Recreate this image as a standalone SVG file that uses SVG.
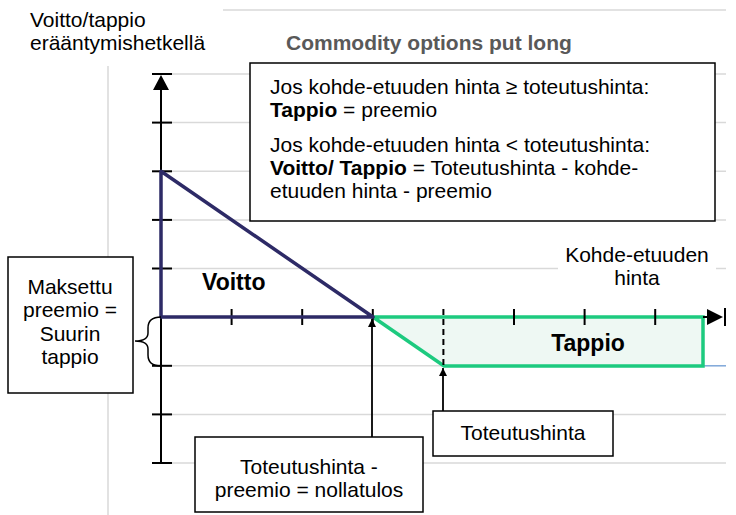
<svg xmlns="http://www.w3.org/2000/svg" width="736" height="515" viewBox="0 0 736 515">
<style>
text{font-family:"Liberation Sans",Arial,sans-serif;font-size:21px;fill:#000}
.b{font-weight:bold}
.grid{stroke:#D9D9D9;stroke-width:1.5;fill:none}
.ax{stroke:#000;stroke-width:2;fill:none}
.box{fill:#fff;stroke:#000;stroke-width:1.5}
.pur{stroke:#2D2A66;stroke-width:3.5;fill:none;stroke-linejoin:round}
.conn{stroke:#000;stroke-width:1.8;fill:none}
</style>
<defs>
<marker id="ah" viewBox="0 0 10 10" refX="10" refY="5" markerWidth="8" markerHeight="8" markerUnits="userSpaceOnUse" orient="auto">
<path d="M0,0 L10,5 L0,10 Z" fill="#000"/>
</marker>
</defs>
<g id="grid">
<line class="grid" x1="223" y1="10" x2="726" y2="10"/>
<line class="grid" x1="108" y1="66" x2="108" y2="515"/>
<line class="grid" x1="161" y1="74" x2="726" y2="74"/>
<line class="grid" x1="161" y1="122.6" x2="726" y2="122.6"/>
<line class="grid" x1="161" y1="171.3" x2="726" y2="171.3"/>
<line class="grid" x1="161" y1="219.9" x2="726" y2="219.9"/>
<line class="grid" x1="161" y1="268.5" x2="726" y2="268.5"/>
<line class="grid" x1="161" y1="365.8" x2="703" y2="365.8"/>
<line x1="703" y1="365.8" x2="726" y2="365.8" stroke="#7FA7D9" stroke-width="1.5"/>
<line class="grid" x1="161" y1="414.4" x2="726" y2="414.4"/>
<line class="grid" x1="161" y1="463" x2="726" y2="463"/>
</g>
<g id="title">
<text x="30" y="27">Voitto/tappio</text>
<text x="30" y="50">erääntymishetkellä</text>
<text x="286" y="50" class="b" style="fill:#595959">Commodity options put long</text>
</g>
<g id="loss-area">
<path d="M373,317 L444,366 L703,366 L703,317 Z" fill="#EEF8F3" stroke="#1DCA7F" stroke-width="3.5" stroke-linejoin="miter"/>
</g>
<g id="axes">
<line class="ax" x1="161" y1="80" x2="161" y2="463"/>
<path d="M161,75 L169,90 L153,90 Z" fill="#000"/>
<line class="ax" x1="152" y1="74" x2="172" y2="74"/>
<line class="ax" x1="152" y1="122.6" x2="172" y2="122.6"/>
<line class="ax" x1="152" y1="171.3" x2="172" y2="171.3"/>
<line class="ax" x1="152" y1="219.9" x2="172" y2="219.9"/>
<line class="ax" x1="152" y1="268.5" x2="172" y2="268.5"/>
<line class="ax" x1="152" y1="365.8" x2="172" y2="365.8"/>
<line class="ax" x1="152" y1="414.4" x2="172" y2="414.4"/>
<line class="ax" x1="152" y1="463" x2="172" y2="463"/>
<line class="ax" x1="703" y1="317" x2="710" y2="317"/>
<path d="M723,317 L707,309 L707,325 Z" fill="#000"/>
<line class="ax" x1="725" y1="308" x2="725" y2="326"/>
<line class="ax" x1="231.6" y1="309" x2="231.6" y2="325"/>
<line class="ax" x1="302.2" y1="309" x2="302.2" y2="325"/>
<line class="ax" x1="372.8" y1="309" x2="372.8" y2="325"/>
<line class="ax" x1="443.4" y1="309" x2="443.4" y2="366" stroke-dasharray="6,4"/>
<line class="ax" x1="514" y1="309" x2="514" y2="325"/>
<line class="ax" x1="584.6" y1="309" x2="584.6" y2="325"/>
<line class="ax" x1="655.2" y1="309" x2="655.2" y2="325"/>
</g>
<g id="profit-line">
<path class="pur" d="M161,317 L161,171.3 L373,317 Z"/>
</g>
<g id="brace">
<path d="M161,317 Q148,317 148,328 L148,333 Q148,341 135,341 Q148,341 148,349 L148,355 Q148,366 161,366" fill="none" stroke="#000" stroke-width="1.5"/>
</g>
<g id="rule-box">
<rect class="box" x="250" y="63" width="465" height="158"/>
<text x="270" y="94">Jos kohde-etuuden hinta ≥ toteutushinta:</text>
<text x="270" y="117"><tspan class="b">Tappio</tspan> = preemio</text>
<text x="270" y="152">Jos kohde-etuuden hinta &lt; toteutushinta:</text>
<text x="270" y="175"><tspan class="b">Voitto/ Tappio</tspan> = Toteutushinta - kohde-</text>
<text x="270" y="198">etuuden hinta - preemio</text>
</g>
<g id="x-label">
<rect x="558" y="243" width="158" height="46" fill="#fff"/>
<text x="637" y="262" text-anchor="middle">Kohde-etuuden</text>
<text x="637" y="285" text-anchor="middle">hinta</text>
</g>
<g id="voitto-label">
<text x="202" y="290" class="b" style="font-size:23px">Voitto</text>
</g>
<g id="tappio-label">
<text x="588" y="351" class="b" text-anchor="middle" style="font-size:23px">Tappio</text>
</g>
<g id="premium-box">
<rect class="box" x="8" y="257" width="125" height="136"/>
<text x="70" y="294" text-anchor="middle">Maksettu</text>
<text x="70" y="317" text-anchor="middle">preemio =</text>
<text x="70" y="341" text-anchor="middle">Suurin</text>
<text x="70" y="364" text-anchor="middle">tappio</text>
</g>
<g id="breakeven-box">
<rect class="box" x="195" y="437" width="228" height="75"/>
<text x="309" y="474" text-anchor="middle">Toteutushinta -</text>
<text x="309" y="497" text-anchor="middle">preemio = nollatulos</text>
</g>
<g id="strike-box">
<rect class="box" x="433" y="411" width="180" height="45"/>
<text x="523" y="440" text-anchor="middle">Toteutushinta</text>
</g>
<g id="connectors">
<line class="conn" x1="372" y1="437" x2="372" y2="319" marker-end="url(#ah)"/>
<line class="conn" x1="443" y1="411" x2="443" y2="368" marker-end="url(#ah)"/>
</g>
</svg>
